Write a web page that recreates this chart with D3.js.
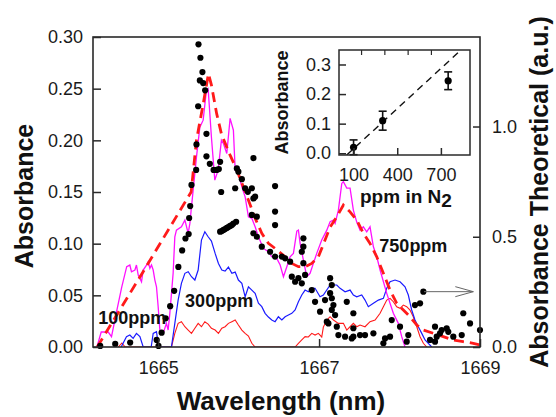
<!DOCTYPE html>
<html><head><meta charset="utf-8">
<script src="https://cdn.jsdelivr.net/npm/d3@7"></script>
<style>body{margin:0;background:#fff;} svg{display:block;font-family:"Liberation Sans",Arial,sans-serif;}</style>
</head><body><svg id="c" width="556" height="417"></svg>
<script>
// ---------- DATA ----------
const xTicks = [1665, 1667, 1669];
const yLeftTicks = [0, 0.05, 0.10, 0.15, 0.20, 0.25, 0.30];
const yRightTicks = [0, 0.5, 1.0];

// measured spectrum, 750 ppm (magenta) [wavelength nm, absorbance]
const s750 = [[1664.239,0],[1664.292,0.0145],[1664.379,0.0145],[1664.420,0.010],[1664.487,0.0358],[1664.547,0.058],[1664.609,0.0777],[1664.648,0.0793],[1664.668,0.0728],[1664.711,0.0745],[1664.730,0.0793],[1664.752,0.0696],[1664.793,0.0631],[1664.814,0.0745],[1664.855,0.0793],[1664.876,0.0825],[1664.897,0.0761],[1664.917,0.0793],[1664.938,0.0745],[1664.959,0.0648],[1664.979,0.0583],[1665.000,0.039],[1665.021,0.0164],[1665.062,0.0132],[1665.103,0.0229],[1665.124,0.0164],[1665.145,0.0326],[1665.186,0.0713],[1665.207,0.1067],[1665.227,0.1131],[1665.289,0.1163],[1665.332,0.1228],[1665.373,0.110],[1665.394,0.1196],[1665.414,0.1357],[1665.435,0.1518],[1665.476,0.1837],[1665.518,0.2127],[1665.559,0.2195],[1665.600,0.2485],[1665.621,0.250],[1665.662,0.203],[1665.704,0.1615],[1665.745,0.1712],[1665.786,0.2002],[1665.811,0.197],[1665.853,0.1873],[1665.894,0.2212],[1665.935,0.2098],[1665.957,0.1712],[1665.997,0.168],[1666.040,0.155],[1666.081,0.1453],[1666.122,0.126],[1666.164,0.1245],[1666.205,0.1163],[1666.246,0.1067],[1666.308,0.0954],[1666.370,0.0922],[1666.412,0.0873],[1666.474,0.0858],[1666.516,0.0793],[1666.557,0.068],[1666.599,0.0777],[1666.640,0.0873],[1666.681,0.0906],[1666.723,0.1122],[1666.743,0.1131],[1666.764,0.1003],[1666.805,0.0841],[1666.847,0.068],[1666.888,0.0713],[1666.929,0.0809],[1666.971,0.0906],[1667.033,0.1035],[1667.096,0.1131],[1667.137,0.1212],[1667.178,0.1228],[1667.199,0.1196],[1667.240,0.1325],[1667.282,0.1583],[1667.302,0.160],[1667.344,0.1538],[1667.385,0.1538],[1667.426,0.1325],[1667.468,0.1209],[1667.509,0.1131],[1667.550,0.1163],[1667.592,0.1115],[1667.633,0.1163],[1667.675,0.097],[1667.717,0.0873],[1667.758,0.0745],[1667.841,0.0519],[1667.923,0.0326],[1667.985,0.0229],[1668.027,0.010],[1668.068,0]];

// measured spectrum, 300 ppm (blue)
const s300 = [[1664.540,0],[1664.606,0.010],[1664.648,0.0116],[1664.689,0.0084],[1664.730,0.0132],[1664.773,0.010],[1664.814,0],[1664.913,0],[1664.938,0.0132],[1664.979,0.0148],[1665.000,0.0036],[1665.021,0],[1665.165,0],[1665.207,0.0229],[1665.248,0.0454],[1665.289,0.0616],[1665.332,0.0713],[1665.373,0.0728],[1665.414,0.068],[1665.456,0.0648],[1665.497,0.0745],[1665.538,0.1035],[1665.580,0.1115],[1665.621,0.1067],[1665.662,0.1025],[1665.708,0.0906],[1665.749,0.0809],[1665.791,0.0745],[1665.832,0.0735],[1665.873,0.0774],[1665.916,0.0713],[1665.957,0.0725],[1665.997,0.0648],[1666.040,0.0616],[1666.081,0.0486],[1666.122,0.0583],[1666.164,0.0551],[1666.205,0.0519],[1666.246,0.0423],[1666.288,0.039],[1666.329,0.0326],[1666.370,0.029],[1666.412,0.0261],[1666.453,0.0245],[1666.494,0.0293],[1666.537,0.0261],[1666.578,0.0293],[1666.619,0.0309],[1666.661,0.0326],[1666.702,0.0358],[1666.743,0.0438],[1666.785,0.0503],[1666.826,0.0551],[1666.867,0.0535],[1666.909,0.0568],[1666.950,0.0568],[1667.012,0.0486],[1667.053,0.0503],[1667.137,0.060],[1667.220,0.060],[1667.261,0.0568],[1667.323,0.0535],[1667.385,0.0551],[1667.426,0.0503],[1667.468,0.0486],[1667.530,0.0503],[1667.571,0.0454],[1667.612,0.039],[1667.675,0.0423],[1667.737,0.0454],[1667.799,0.0471],[1667.841,0.0568],[1667.882,0.0631],[1667.944,0.0648],[1668.006,0.0631],[1668.068,0.0583],[1668.109,0.0503],[1668.151,0.0358],[1668.192,0.0261],[1668.233,0.0196],[1668.276,0.0132],[1668.317,0.0068],[1668.400,0]];

// measured spectrum, 100 ppm (red)
const s100 = [[1664.503,0],[1664.549,0.0039],[1664.590,0],[1665.165,0],[1665.207,0.0132],[1665.248,0.0229],[1665.289,0.0245],[1665.332,0.0196],[1665.373,0.0164],[1665.414,0.0132],[1665.456,0.0181],[1665.497,0.0229],[1665.538,0.0196],[1665.580,0.0245],[1665.621,0.0222],[1665.662,0.0181],[1665.708,0.0164],[1665.749,0.0132],[1665.791,0.0181],[1665.832,0.0196],[1665.873,0.0229],[1665.916,0.0245],[1665.957,0.0261],[1665.997,0.0213],[1666.040,0.0164],[1666.081,0.0132],[1666.122,0.0106],[1666.164,0.0036],[1666.205,0],[1666.702,0],[1666.743,0.0036],[1666.785,0.0068],[1666.826,0.010],[1666.867,0.0097],[1666.909,0.0132],[1666.950,0.0116],[1666.991,0.0132],[1667.033,0.0097],[1667.053,0.0193],[1667.096,0.0261],[1667.137,0.0293],[1667.178,0.0261],[1667.240,0.0229],[1667.302,0.0229],[1667.344,0.0164],[1667.385,0.0196],[1667.426,0.0229],[1667.468,0.0196],[1667.509,0.0213],[1667.571,0.0196],[1667.633,0.0245],[1667.696,0.0261],[1667.758,0.0326],[1667.799,0.039],[1667.841,0.0454],[1667.882,0.0471],[1667.923,0.0438],[1667.965,0.039],[1668.006,0.0374],[1668.047,0.0406],[1668.089,0.039],[1668.130,0.0358],[1668.171,0.0293],[1668.214,0.0196],[1668.255,0.010],[1668.296,0.0036],[1668.338,0]];

// dashed red envelope (left axis)
const envelope = [[1664.242,0],[1664.826,0.0745],[1665.410,0.150],[1665.476,0.2002],[1665.559,0.235],[1665.625,0.2645],[1665.662,0.2534],[1665.727,0.2258],[1665.786,0.2063],[1665.832,0.1973],[1665.894,0.1857],[1665.978,0.1712],[1666.122,0.1421],[1666.205,0.1247],[1666.288,0.110],[1666.370,0.1003],[1666.453,0.0954],[1666.578,0.0873],[1666.661,0.0809],[1666.743,0.0777],[1666.826,0.0777],[1666.909,0.0809],[1666.991,0.0873],[1667.074,0.1035],[1667.137,0.116],[1667.220,0.126],[1667.302,0.1373],[1667.385,0.1308],[1667.468,0.1228],[1667.550,0.110],[1667.633,0.1003],[1667.717,0.0873],[1667.799,0.0713],[1667.882,0.0551],[1667.965,0.0423],[1668.047,0.0358],[1668.130,0.0293],[1668.214,0.0213],[1668.296,0.0164],[1668.420,0.0132],[1668.544,0.010],[1668.668,0.0068],[1668.792,0.0051],[1668.917,0.0036],[1669.000,0.0019]];

// theoretical absorbance points (right axis, a.u.)
const theory = [[1664.280,0.005],[1664.466,0.014],[1664.652,0.020],[1664.981,0.032],[1665.004,0.005],[1665.043,0.065],[1665.093,0.130],[1665.149,0.185],[1665.199,0.255],[1665.251,0.363],[1665.298,0.438],[1665.339,0.492],[1665.379,0.512],[1665.385,0.585],[1665.398,0.639],[1665.414,0.735],[1665.472,0.803],[1665.476,0.919],[1665.497,1.092],[1665.501,1.373],[1665.525,1.312],[1665.550,1.247],[1665.518,1.209],[1665.559,1.197],[1665.584,1.164],[1665.600,0.967],[1665.600,0.865],[1665.642,0.831],[1665.689,0.803],[1665.727,0.803],[1665.754,0.807],[1665.770,0.840],[1665.783,0.703],[1665.770,0.523],[1665.791,0.526],[1665.811,0.531],[1665.832,0.535],[1665.853,0.540],[1665.873,0.544],[1665.894,0.549],[1665.916,0.553],[1665.935,0.560],[1665.969,0.568],[1665.957,0.720],[1665.978,0.810],[1665.997,0.795],[1666.040,0.761],[1666.081,0.720],[1666.114,0.704],[1666.184,0.857],[1666.164,0.720],[1666.205,0.682],[1666.184,0.674],[1666.164,0.599],[1666.226,0.591],[1666.184,0.516],[1666.226,0.500],[1666.288,0.455],[1666.391,0.432],[1666.453,0.410],[1666.453,0.730],[1666.453,0.614],[1666.453,0.553],[1666.537,0.410],[1666.578,0.402],[1666.640,0.387],[1666.661,0.319],[1666.702,0.296],[1666.743,0.312],[1666.785,0.289],[1666.805,0.380],[1666.785,0.432],[1666.805,0.455],[1666.805,0.493],[1666.826,0.327],[1666.909,0.258],[1666.950,0.205],[1667.012,0.160],[1667.074,0.213],[1667.096,0.115],[1667.137,0.312],[1667.158,0.281],[1667.137,0.244],[1667.158,0.221],[1667.178,0.190],[1667.158,0.168],[1667.199,0.145],[1667.116,0.107],[1667.220,0.092],[1667.344,0.205],[1667.426,0.153],[1667.240,0.054],[1667.323,0.047],[1667.406,0.039],[1667.509,0.054],[1667.571,0.054],[1667.675,0.062],[1667.799,0.017],[1667.882,0.047],[1667.903,0.122],[1668.006,0.092],[1668.089,0.024],[1668.109,0.054],[1668.192,0.190],[1668.255,0.198],[1668.296,0.251],[1668.379,0.032],[1668.441,0.024],[1668.441,0.092],[1668.524,0.077],[1668.606,0.069],[1668.668,0.047],[1668.773,0.054],[1668.792,0.153],[1668.876,0.107],[1669.000,0.077],[1667.426,0.085],[1667.426,0.047],[1667.820,0.039],[1668.462,0.047],[1668.586,0.085],[1668.503,0.062]];

// inset: absorbance vs concentration
const insetPpm = [100, 300, 750];
const insetAbs = [0.02, 0.11, 0.245];
const insetErr = [0.025, 0.032, 0.03];
const fitPpm = [53, 838];
const fitAbs = [-0.006, 0.349];
const insetXTicks = [100, 400, 700];
const insetYTicks = [0, 0.1, 0.2, 0.3];
const insetTopTicks = [155, 315, 475, 635];

const seriesLabels = [
  {text: "100ppm", wl: 1664.255, abs: 0.0222},
  {text: "300ppm", wl: 1665.335, abs: 0.039},
  {text: "750ppm", wl: 1667.749, abs: 0.0922}
];
const arrowFrom = [1668.304, 0.251], arrowTo = [1668.917, 0.251];

// ---------- DRAW ----------
const svg = d3.select("#c");
const L = 93, R = 480, T = 37, B = 347;
const x = d3.scaleLinear().domain([1664.19, 1669]).range([L, R]);
const yL = d3.scaleLinear().domain([0, 0.30]).range([B, T]);
const yR = d3.scaleLinear().domain([0, 1.406]).range([B, T]);
const FRAME = "#2a2a2a";

svg.append("defs").append("clipPath").attr("id", "clip")
  .append("rect").attr("x", L).attr("y", T - 2).attr("width", R - L).attr("height", B - T + 2);

const plot = svg.append("g").attr("clip-path", "url(#clip)");
const lineL = d3.line().x(d => x(d[0])).y(d => yL(d[1]));

plot.append("path").datum(s100).attr("d", lineL).attr("fill", "none").attr("stroke", "#ff1a1a").attr("stroke-width", 1.1);
plot.append("path").datum(s300).attr("d", lineL).attr("fill", "none").attr("stroke", "#1a1aff").attr("stroke-width", 1.2);
plot.append("path").datum(s750).attr("d", lineL).attr("fill", "none").attr("stroke", "#ff10ff").attr("stroke-width", 1.3);
plot.append("path").datum(envelope).attr("d", lineL).attr("fill", "none").attr("stroke", "#ff1a1a")
  .attr("stroke-width", 2.8).attr("stroke-dasharray", "10,6");

svg.append("g").selectAll("circle").data(theory).join("circle")
  .attr("cx", d => x(d[0])).attr("cy", d => yR(d[1])).attr("r", 3.1).attr("fill", "#000");

// arrow
const ag = svg.append("g").attr("stroke", "#666").attr("stroke-width", 1).attr("fill", "none");
ag.append("line").attr("x1", x(arrowFrom[0])).attr("y1", yR(arrowFrom[1])).attr("x2", x(arrowTo[0])).attr("y2", yR(arrowTo[1]));
ag.append("path").attr("d", `M${x(arrowTo[0]) - 18},${yR(arrowTo[1]) - 5}L${x(arrowTo[0])},${yR(arrowTo[1])}L${x(arrowTo[0]) - 18},${yR(arrowTo[1]) + 5}`);

// frame
svg.append("rect").attr("x", L).attr("y", T).attr("width", R - L).attr("height", B - T)
  .attr("fill", "none").attr("stroke", FRAME).attr("stroke-width", 1.6);

function styleAxis(g, fs) {
  g.select(".domain").remove();
  g.selectAll(".tick line").attr("stroke", FRAME).attr("stroke-width", 1.5);
  g.selectAll(".tick text").attr("fill", "#1a1a1a").attr("font-size", fs).attr("font-family", '"Liberation Sans",Arial,sans-serif');
}
svg.append("g").attr("transform", `translate(${L},0)`)
  .call(d3.axisLeft(yL).tickValues(yLeftTicks).tickSizeInner(-8).tickSizeOuter(0).tickPadding(10).tickFormat(d3.format(".2f")))
  .call(g => styleAxis(g, 18));
svg.append("g").attr("transform", `translate(0,${B})`)
  .call(d3.axisBottom(x).tickValues(xTicks).tickSizeInner(-8).tickSizeOuter(0).tickPadding(14).tickFormat(d3.format("d")))
  .call(g => styleAxis(g, 18));
svg.append("g").attr("transform", `translate(${R},0)`)
  .call(d3.axisRight(yR).tickValues(yRightTicks).tickSizeInner(-7).tickSizeOuter(0).tickPadding(12).tickFormat(d3.format(".1f")))
  .call(g => styleAxis(g, 18));

// titles
svg.append("text").attr("transform", "translate(33,196) rotate(-90)").attr("text-anchor", "middle")
  .attr("font-weight", "bold").attr("font-size", 25).attr("fill", "#111").text("Absorbance");
svg.append("text").attr("x", 281).attr("y", 410).attr("text-anchor", "middle")
  .attr("font-weight", "bold").attr("font-size", 26).attr("fill", "#111").text("Wavelength (nm)");
svg.append("text").attr("transform", "translate(548,192) rotate(-90)").attr("text-anchor", "middle")
  .attr("font-weight", "bold").attr("font-size", 25).attr("fill", "#111").text("Absorbance Theoretical (a.u.)");

// series labels
svg.append("g").selectAll("text").data(seriesLabels).join("text")
  .attr("x", d => x(d.wl)).attr("y", d => yL(d.abs))
  .attr("font-weight", "bold").attr("font-size", 18).attr("fill", "#111").text(d => d.text);

// ---------- INSET ----------
const iL = 339, iR = 470, iT = 50, iB = 155;
const ix = d3.scaleLinear().domain([0, 900]).range([iL, iR]);
const iy = d3.scaleLinear().domain([-0.006, 0.349]).range([iB, iT]);
const inset = svg.append("g");
inset.append("rect").attr("x", iL).attr("y", iT).attr("width", iR - iL).attr("height", iB - iT).attr("fill", "#fff");
inset.append("defs").append("clipPath").attr("id", "iclip")
  .append("rect").attr("x", iL).attr("y", iT).attr("width", iR - iL).attr("height", iB - iT);
inset.append("line").attr("clip-path", "url(#iclip)")
  .attr("x1", ix(fitPpm[0])).attr("y1", iy(fitAbs[0])).attr("x2", ix(fitPpm[1])).attr("y2", iy(fitAbs[1]))
  .attr("stroke", "#111").attr("stroke-width", 1.4).attr("stroke-dasharray", "7,5");
const pts = insetPpm.map((p, i) => ({p, a: insetAbs[i], e: insetErr[i]}));
const eb = inset.append("g").attr("stroke", "#111").attr("stroke-width", 1.6);
pts.forEach(d => {
  eb.append("line").attr("x1", ix(d.p)).attr("x2", ix(d.p)).attr("y1", iy(d.a - d.e)).attr("y2", iy(d.a + d.e));
  eb.append("line").attr("x1", ix(d.p) - 4).attr("x2", ix(d.p) + 4).attr("y1", iy(d.a - d.e)).attr("y2", iy(d.a - d.e));
  eb.append("line").attr("x1", ix(d.p) - 4).attr("x2", ix(d.p) + 4).attr("y1", iy(d.a + d.e)).attr("y2", iy(d.a + d.e));
});
inset.append("g").selectAll("circle").data(pts).join("circle")
  .attr("cx", d => ix(d.p)).attr("cy", d => iy(d.a)).attr("r", 3.6).attr("fill", "#000");
inset.append("g").selectAll("line").data(insetTopTicks).join("line")
  .attr("x1", d => ix(d)).attr("x2", d => ix(d)).attr("y1", iT).attr("y2", iT + 5)
  .attr("stroke", FRAME).attr("stroke-width", 1.2);
inset.append("rect").attr("x", iL).attr("y", iT).attr("width", iR - iL).attr("height", iB - iT)
  .attr("fill", "none").attr("stroke", FRAME).attr("stroke-width", 1.5);
inset.append("g").attr("transform", `translate(${iL},0)`)
  .call(d3.axisLeft(iy).tickValues(insetYTicks).tickSizeInner(-7).tickSizeOuter(0).tickPadding(8).tickFormat(d3.format(".1f")))
  .call(g => styleAxis(g, 18));
inset.append("g").attr("transform", `translate(0,${iB})`)
  .call(d3.axisBottom(ix).tickValues(insetXTicks).tickSizeInner(-7).tickSizeOuter(0).tickPadding(13).tickFormat(d3.format("d")))
  .call(g => styleAxis(g, 18));
inset.append("text").attr("transform", `translate(288,${(iT + iB) / 2}) rotate(-90)`).attr("text-anchor", "middle")
  .attr("font-weight", "bold").attr("font-size", 18).attr("fill", "#111").text("Absorbance");
const xl = inset.append("text").attr("x", 360).attr("y", 203).attr("font-weight", "bold").attr("font-size", 19).attr("fill", "#111");
xl.append("tspan").text("ppm in N");
xl.append("tspan").attr("dy", 4).text("2");
</script></body></html>
